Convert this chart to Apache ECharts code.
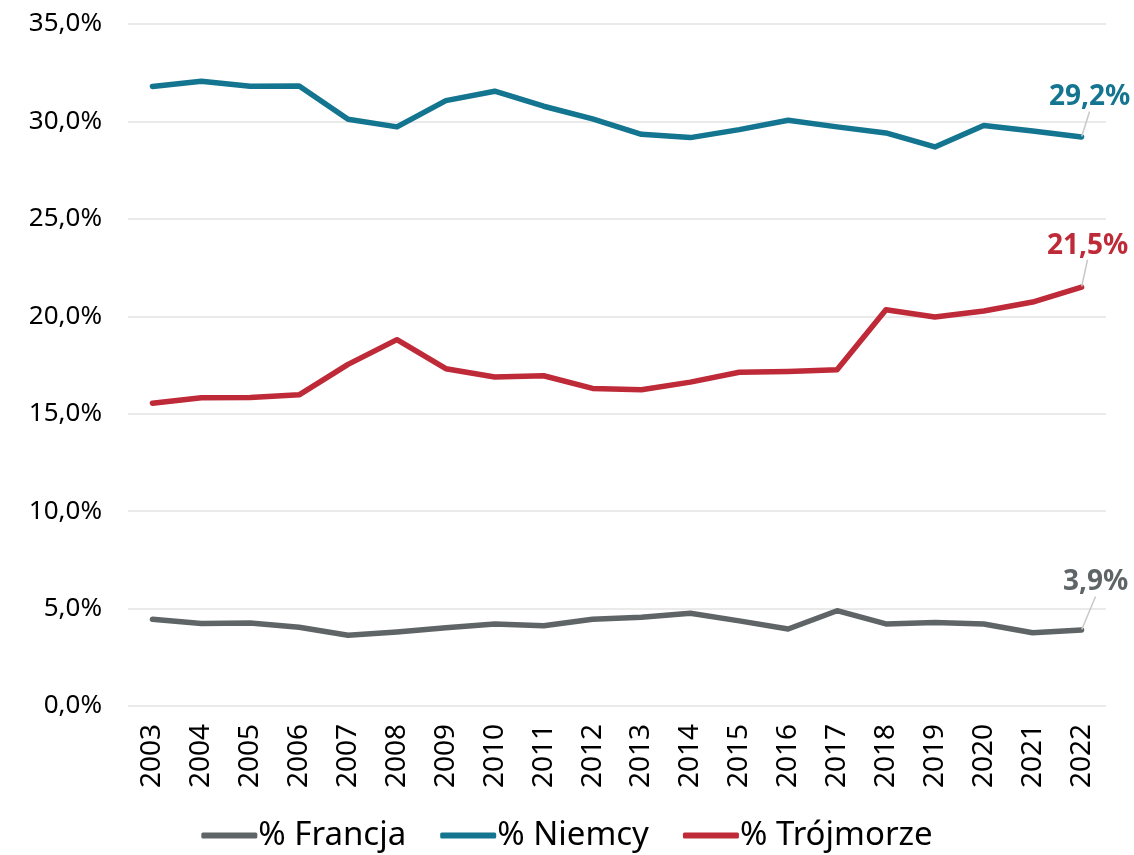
<!DOCTYPE html>
<html>
<head>
<meta charset="utf-8">
<script src="https://cdn.jsdelivr.net/npm/echarts@6/dist/echarts.min.js"></script>
<style>
  html, body { margin: 0; padding: 0; background: #fff; }
  #chart { width: 1134px; height: 855px; }
</style>
</head>
<body>
<div id="chart"></div>
<script>
// dane (udział w %)
const years = ['2003', '2004', '2005', '2006', '2007', '2008', '2009', '2010', '2011', '2012',
               '2013', '2014', '2015', '2016', '2017', '2018', '2019', '2020', '2021', '2022']
const francja = [4.45, 4.23, 4.26, 4.04, 3.63, 3.80, 4.01, 4.21, 4.12, 4.45,
                 4.55, 4.76, 4.37, 3.95, 4.89, 4.21, 4.28, 4.21, 3.76, 3.9]
const niemcy = [31.79, 32.06, 31.81, 31.82, 30.11, 29.72, 31.07, 31.55, 30.78, 30.13,
                29.34, 29.17, 29.58, 30.06, 29.72, 29.41, 28.69, 29.79, 29.51, 29.2]
const trojmorze = [15.54, 15.82, 15.83, 15.97, 17.53, 18.80, 17.31, 16.88, 16.95, 16.30,
                   16.23, 16.62, 17.13, 17.17, 17.26, 20.34, 19.96, 20.27, 20.73, 21.5]
const yTicks = [0, 5, 10, 15, 20, 25, 30, 35]

const FONT = 'Noto Sans'
const pct = v => v.toFixed(1).replace('.', ',') + '%'

// ostatni punkt dostaje etykietę z linią odniesienia
const withEndLabel = (arr, color) => arr.map((v, i) => {
    if (i !== arr.length - 1) return { value: v, symbolSize: 0 }
    return {
        value: v,
        symbolSize: 1,
        label: {
            show: true,
            position: 'top',
            formatter: p => pct(p.value),
            color: color,
            fontFamily: FONT,
            fontWeight: 'bold',
            fontSize: 28
        },
        labelLine: { show: true, lineStyle: { color: '#c8c8c8', width: 1.5 } }
    }
})

const mkSeries = (name, data, color, dx, dy) => ({
    name: name,
    type: 'line',
    data: withEndLabel(data, color),
    symbol: 'circle',
    showSymbol: true,
    lineStyle: { color: color, width: 5.5, cap: 'round', join: 'round' },
    itemStyle: { color: color },
    labelLayout: { dx: dx, dy: dy },
    labelLine: { show: true, lineStyle: { color: '#c8c8c8', width: 1.5 } },
    emphasis: { disabled: true },
    z: 3
})

const chart = echarts.init(document.getElementById('chart'))
chart.setOption({
    backgroundColor: '#fff',
    animation: false,
    grid: { left: 128, right: 28, top: 24, bottom: 149 },
    legend: {
        bottom: -2,
        left: 'center',
        icon: 'roundRect',
        itemWidth: 56,
        itemHeight: 6,
        itemGap: 34,
        textStyle: { fontFamily: FONT, fontSize: 33, color: '#000', padding: [0, 0, 0, -4] },
        data: ['% Francja', '% Niemcy', '% Trójmorze']
    },
    xAxis: {
        type: 'category',
        data: years,
        boundaryGap: true,
        axisLine: { show: false },
        axisTick: { show: false },
        axisLabel: {
            rotate: 90,
            interval: 0,
            margin: 18,
            fontFamily: FONT,
            fontSize: 28,
            color: '#000'
        }
    },
    yAxis: {
        type: 'value',
        min: yTicks[0],
        max: yTicks[yTicks.length - 1],
        interval: 5,
        axisLine: { show: false },
        axisTick: { show: false },
        splitLine: { lineStyle: { color: '#e3e3e3', width: 1.5 } },
        axisLabel: {
            margin: 26,
            fontFamily: FONT,
            fontSize: 26,
            color: '#000',
            formatter: v => pct(v)
        }
    },
    series: [
        mkSeries('% Francja', francja, '#5f6567', 14, -28),
        mkSeries('% Niemcy', niemcy, '#137590', 8, -20),
        mkSeries('% Trójmorze', trojmorze, '#be2a37', 6, -22)
    ]
})
</script>
</body>
</html>
